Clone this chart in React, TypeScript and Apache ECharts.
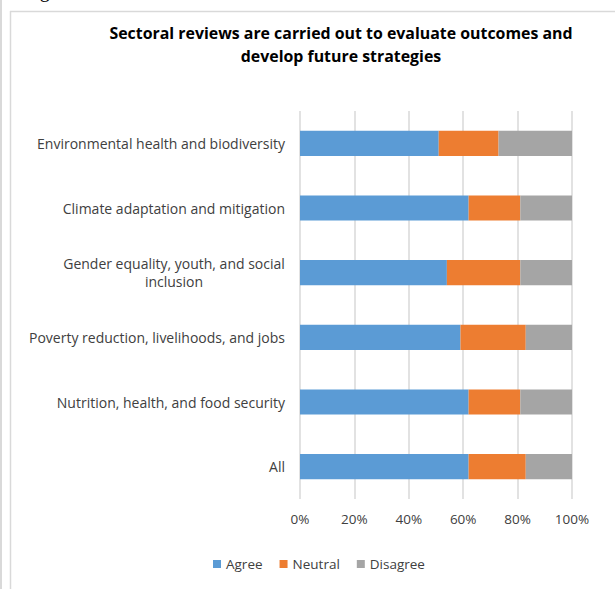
import React, { useEffect, useRef } from "react";
import * as echarts from "echarts";

const categories = [
  "All",
  "Nutrition, health, and food security",
  "Poverty reduction, livelihoods, and jobs",
  "Gender equality, youth, and social inclusion",
  "Climate adaptation and mitigation",
  "Environmental health and biodiversity",
];
const agree = [62, 62, 59, 54, 62, 51];
const neutral = [21, 19, 24, 27, 19, 22];
const disagree = [17, 19, 17, 19, 19, 27];
const seriesNames = ["Agree", "Neutral", "Disagree"];
const colors = ["#5b9bd5", "#ed7d31", "#a5a5a5"];
const titleText = "Sectoral reviews are carried out to evaluate outcomes and\ndevelop future strategies";

const FONT = "Open Sans";
const LABEL = "#404040";

export default function App() {
  const ref = useRef<HTMLDivElement>(null);
  useEffect(() => {
    if (!ref.current) return;
    const chart = echarts.init(ref.current, null, { renderer: "svg" });
    const data = [agree, neutral, disagree];
    chart.setOption({
      animation: false,
      backgroundColor: "#ffffff",
      title: {
        text: titleText,
        left: 336,
        top: 17,
        textAlign: "center",
        textStyle: {
          fontFamily: FONT,
          fontWeight: "bold",
          fontSize: 15.9,
          lineHeight: 22.5,
          color: "#000000",
        },
      },
      legend: {
        top: 552,
        left: 208,
        itemWidth: 8,
        itemHeight: 8,
        itemGap: 17,
        icon: "rect",
        textStyle: { fontFamily: FONT, fontSize: 13.5, color: LABEL },
        data: seriesNames,
      },
      grid: { left: 300, right: 43, top: 111, bottom: 90, containLabel: false },
      xAxis: {
        type: "value",
        min: 0,
        max: 100,
        interval: 20,
        axisLine: { show: false },
        axisTick: { show: false },
        splitLine: { show: true, lineStyle: { color: "#d9d9d9", width: 1.5 } },
        axisLabel: {
          formatter: (v: number) => v + "%",
          fontFamily: FONT,
          fontSize: 13.5,
          color: LABEL,
          margin: 13,
        },
      },
      yAxis: {
        type: "category",
        data: categories,
        axisLine: { show: false },
        axisTick: { show: false },
        axisLabel: {
          fontFamily: FONT,
          fontSize: 14,
          color: LABEL,
          margin: 15,
          lineHeight: 18,
          formatter: (v: string) => {
            if (v === "Gender equality, youth, and social inclusion") {
              return "{c|Gender equality, youth, and social}\n{c|inclusion}";
            }
            return v;
          },
          rich: {
            c: {
              width: 222,
              align: "center",
              fontFamily: FONT,
              fontSize: 14,
              color: LABEL,
              lineHeight: 18,
            },
          },
        },
      },
      series: seriesNames.map((name, i) => ({
        name,
        type: "bar",
        stack: "total",
        barWidth: "39%",
        data: data[i],
        itemStyle: { color: colors[i] },
      })),
      graphic: [
        { type: "line", shape: { x1: 1, y1: 0, x2: 1, y2: 589 }, style: { stroke: "#d9d9d9", lineWidth: 2 } },
        { type: "line", shape: { x1: 10.5, y1: 11, x2: 10.5, y2: 589 }, style: { stroke: "#d9d9d9", lineWidth: 1.5 } },
        { type: "line", shape: { x1: 10, y1: 11.5, x2: 615, y2: 11.5 }, style: { stroke: "#d9d9d9", lineWidth: 1.5 } },
        {
          type: "text",
          x: 23,
          y: -20,
          style: { text: "Figure", font: "20px 'Liberation Serif'", fill: "#000000" },
        },
      ],
    });
    return () => chart.dispose();
  }, []);
  return (
    <div
      ref={ref}
      style={{ position: "fixed", left: 0, top: 0, width: 615, height: 589 }}
    />
  );
}
